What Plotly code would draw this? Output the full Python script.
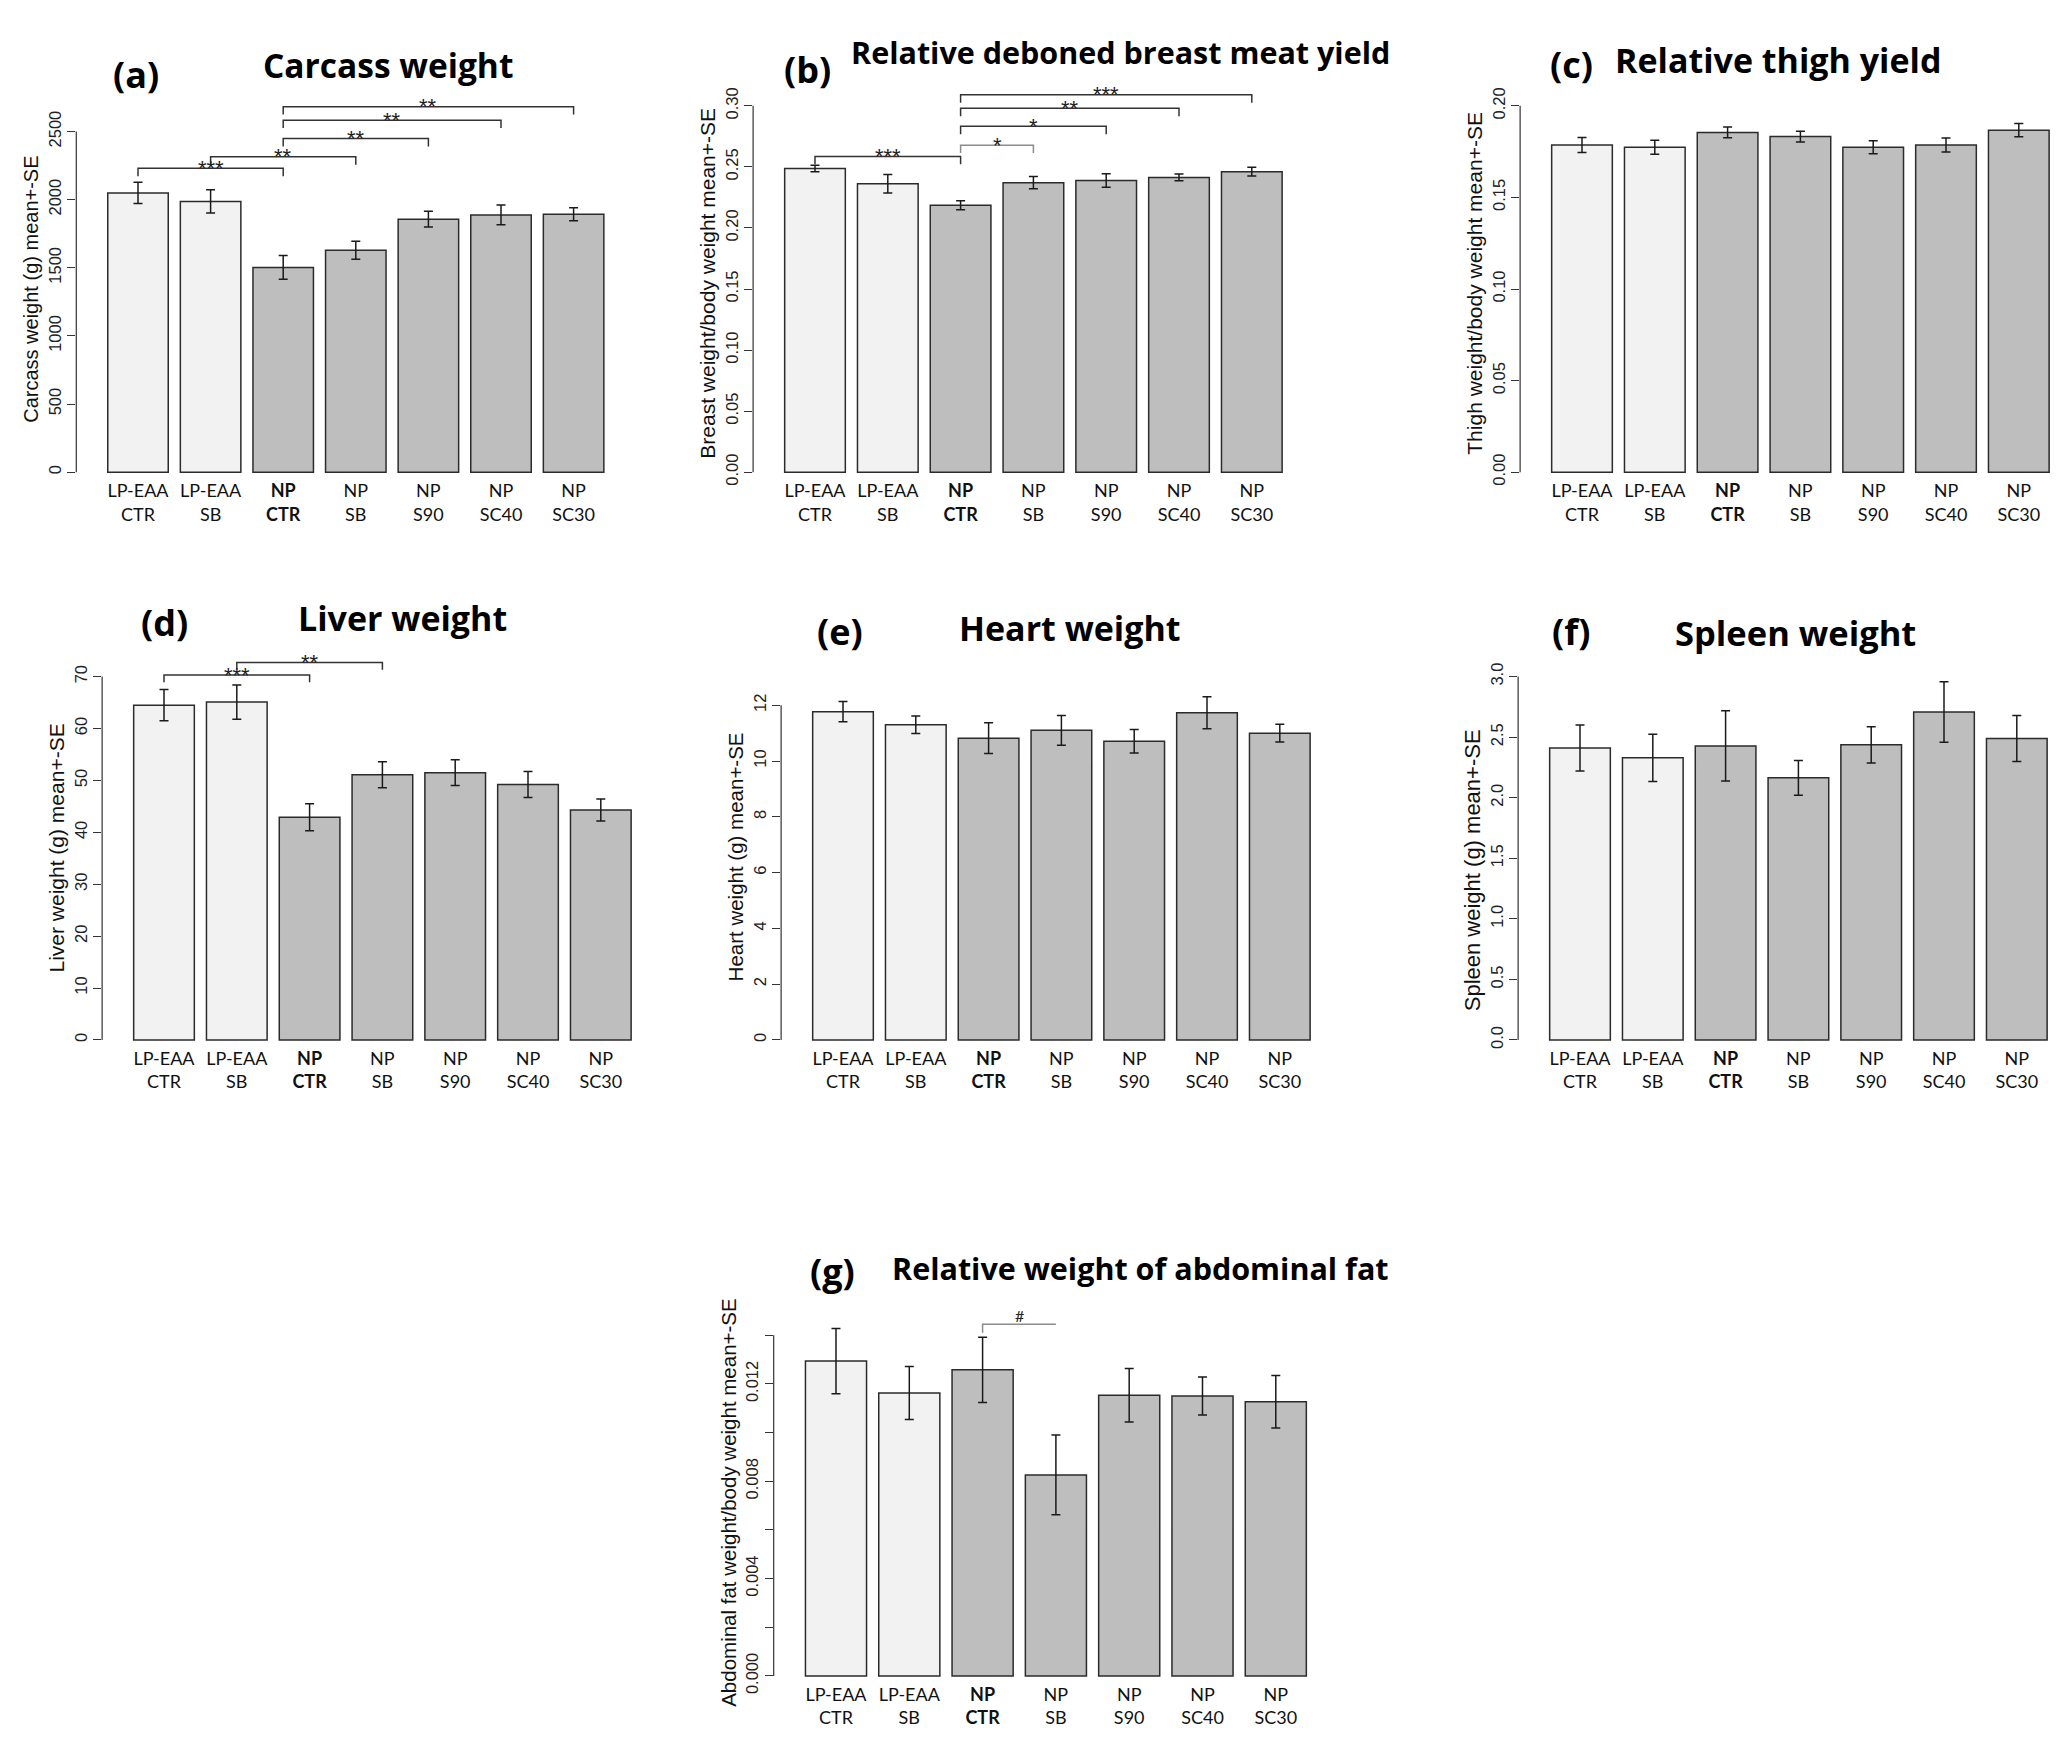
import plotly.graph_objects as go

W, H = 2067, 1755

# ---------------- data ----------------
groups = ["LP-EAA<br>CTR", "LP-EAA<br>SB", "<b>NP</b><br><b>CTR</b>", "NP<br>SB",
          "NP<br>S90", "NP<br>SC40", "NP<br>SC30"]
bar_colors = ["#f2f2f2", "#f2f2f2", "#bebebe", "#bebebe", "#bebebe", "#bebebe", "#bebebe"]

carcass_mean = [2049, 1987, 1503, 1628, 1857, 1888, 1893]
carcass_se = [78, 85, 87, 66, 58, 72, 48]
breast_mean = [0.2487, 0.2362, 0.2186, 0.2371, 0.2388, 0.2414, 0.2461]
breast_se = [0.0026, 0.0075, 0.0036, 0.0050, 0.0055, 0.0028, 0.0036]
thigh_mean = [0.1786, 0.1774, 0.1855, 0.1832, 0.1774, 0.1786, 0.1867]
thigh_se = [0.0041, 0.0038, 0.0029, 0.0030, 0.0035, 0.0038, 0.0036]
liver_mean = [64.5, 65.1, 42.9, 51.1, 51.5, 49.2, 44.3]
liver_se = [3.0, 3.3, 2.6, 2.5, 2.5, 2.5, 2.1]
heart_mean = [11.77, 11.30, 10.82, 11.10, 10.71, 11.73, 11.00]
heart_se = [0.36, 0.31, 0.55, 0.53, 0.42, 0.57, 0.32]
spleen_mean = [2.411, 2.330, 2.428, 2.164, 2.437, 2.707, 2.489]
spleen_se = [0.19, 0.195, 0.29, 0.143, 0.15, 0.25, 0.19]
fat_mean = [0.01294, 0.01163, 0.01258, 0.00826, 0.01153, 0.01150, 0.01127]
fat_se = [0.00134, 0.00109, 0.00134, 0.00164, 0.00110, 0.00078, 0.00108]

# significance brackets: (from group, to group, height, label)
carcass_sig = [(0, 2, 2230, "***"), (1, 3, 2315, "**"), (2, 4, 2448, "**"),
               (2, 5, 2583, "**"), (2, 6, 2682, "**")]
breast_sig = [(0, 2, 0.2586, "***"), (2, 3, 0.2678, "*"), (2, 4, 0.2832, "*"),
              (2, 5, 0.2980, "**"), (2, 6, 0.3090, "***")]
liver_sig = [(0, 2, 70.3, "***"), (1, 3, 72.7, "**")]
fat_sig = [(2, 3, 0.01445, "#")]

carcass_ticks = [0, 500, 1000, 1500, 2000, 2500]
carcass_ticktext = ["0", "500", "1000", "1500", "2000", "2500"]
breast_ticks = [0, 0.05, 0.10, 0.15, 0.20, 0.25, 0.30]
breast_ticktext = ["0.00", "0.05", "0.10", "0.15", "0.20", "0.25", "0.30"]
thigh_ticks = [0, 0.05, 0.10, 0.15, 0.20]
thigh_ticktext = ["0.00", "0.05", "0.10", "0.15", "0.20"]
liver_ticks = [0, 10, 20, 30, 40, 50, 60, 70]
liver_ticktext = ["0", "10", "20", "30", "40", "50", "60", "70"]
heart_ticks = [0, 2, 4, 6, 8, 10, 12]
heart_ticktext = ["0", "2", "4", "6", "8", "10", "12"]
spleen_ticks = [0, 0.5, 1.0, 1.5, 2.0, 2.5, 3.0]
spleen_ticktext = ["0.0", "0.5", "1.0", "1.5", "2.0", "2.5", "3.0"]
fat_ticks = [0, 0.002, 0.004, 0.006, 0.008, 0.010, 0.012, 0.014]
fat_ticktext = ["0.000", "", "0.004", "", "0.008", "", "0.012", ""]

# ---------------- panels (geometry in pixels) ----------------
panels = [
    dict(tag="(a)", title="Carcass weight", ylab="Carcass weight (g) mean+-SE",
         mean=carcass_mean, se=carcass_se, sig=carcass_sig, drop=58,
         ticks=carcass_ticks, ticktext=carcass_ticktext,
         c0=130, sp=72.6, base=463, tt=118, dtop=70, tsize=33.5, lsize=20,
         title_xy=(380, 51), tag_xy=(128, 60), ylab_y=278),
    dict(tag="(b)", title="Relative deboned breast meat yield",
         ylab="Breast weight/body weight mean+-SE",
         mean=breast_mean, se=breast_se, sig=breast_sig, drop=0.0065,
         ticks=breast_ticks, ticktext=breast_ticktext,
         c0=807, sp=72.8, base=463, tt=92, dtop=60, tsize=30.5, lsize=21,
         title_xy=(1112, 37), tag_xy=(799, 55), ylab_y=272),
    dict(tag="(c)", title="Relative thigh yield", ylab="Thigh weight/body weight mean+-SE",
         mean=thigh_mean, se=thigh_se, sig=[], drop=0,
         ticks=thigh_ticks, ticktext=thigh_ticktext,
         c0=1574, sp=72.8, base=463, tt=92, dtop=80, tsize=34, lsize=21,
         title_xy=(1770, 46), tag_xy=(1563, 50), ylab_y=272),
    dict(tag="(d)", title="Liver weight", ylab="Liver weight (g) mean+-SE",
         mean=liver_mean, se=liver_se, sig=liver_sig, drop=1.4,
         ticks=liver_ticks, ticktext=liver_ticktext,
         c0=156, sp=72.8, base=1038, tt=670, dtop=638, tsize=34, lsize=21,
         title_xy=(394, 611), tag_xy=(156, 615), ylab_y=844),
    dict(tag="(e)", title="Heart weight", ylab="Heart weight (g) mean+-SE",
         mean=heart_mean, se=heart_se, sig=[], drop=0,
         ticks=heart_ticks, ticktext=heart_ticktext,
         c0=835, sp=72.8, base=1038, tt=699, dtop=668, tsize=34, lsize=20.5,
         title_xy=(1062, 621), tag_xy=(832, 624), ylab_y=853),
    dict(tag="(f)", title="Spleen weight", ylab="Spleen weight (g) mean+-SE",
         mean=spleen_mean, se=spleen_se, sig=[], drop=0,
         ticks=spleen_ticks, ticktext=spleen_ticktext,
         c0=1572, sp=72.8, base=1038, tt=670, dtop=650, tsize=34.5, lsize=22,
         title_xy=(1787, 625), tag_xy=(1563, 624), ylab_y=866),
    dict(tag="(g)", title="Relative weight of abdominal fat",
         ylab="Abdominal fat weight/body weight mean+-SE",
         mean=fat_mean, se=fat_se, sig=fat_sig, drop=0.00035,
         ticks=fat_ticks, ticktext=fat_ticktext,
         c0=828, sp=73.3, base=1682, tt=1337, dtop=1298, tsize=30.5, lsize=20.5,
         title_xy=(1132, 1269), tag_xy=(824, 1272), ylab_y=1506),
]

TITLE_FONT = "Open Sans"
LABEL_FONT = "Lato"
TICK_FONT = "Liberation Sans"
fig = go.Figure()
annotations = []
shapes = []
layout = dict(width=W, height=H, margin=dict(l=0, r=0, t=0, b=0),
              paper_bgcolor="white", plot_bgcolor="white", showlegend=False)

n = len(groups)
for k, p in enumerate(panels, start=1):
    xa = "x" if k == 1 else f"x{k}"
    ya = "y" if k == 1 else f"y{k}"
    sp = p["sp"]
    gap = 0.85
    axis_px = p["c0"] - gap * sp
    right_px = p["c0"] + (n - 1 + 0.6) * sp
    xl = -gap
    xr = xl + (right_px - axis_px) / sp
    ppv = (p["base"] - p["tt"]) / p["ticks"][-1]
    bottom_px = p["base"] + 3
    ybot = -3 / ppv
    ytop = (p["base"] - p["dtop"]) / ppv

    fig.add_trace(go.Bar(
        x=groups, y=p["mean"], width=1 / 1.2,
        marker=dict(color=bar_colors, line=dict(color="#2b2b2b", width=1.5)),
        error_y=dict(type="data", array=p["se"], visible=True, color="#1a1a1a",
                     thickness=1.5, width=4.5),
        xaxis=xa, yaxis=ya, hoverinfo="skip"))

    for (i, j, h, lab) in p["sig"]:
        light = lab == "#" or (p["tag"] == "(b)" and lab == "*" and j == 3)
        col = "#8c8c8c" if light else "#333333"
        if lab == "#":
            xs = [groups[i], groups[i], groups[j]]
            ys = [h - p["drop"], h, h]
        else:
            xs = [groups[i], groups[i], groups[j], groups[j]]
            ys = [h - p["drop"], h, h, h - p["drop"]]
        fig.add_trace(go.Scatter(x=xs, y=ys, mode="lines",
                                 line=dict(color=col, width=1.5),
                                 xaxis=xa, yaxis=ya, hoverinfo="skip"))
        annotations.append(dict(x=(i + j) / 2, y=h, xref=xa, yref=ya, text=lab,
                                showarrow=False, yanchor="middle", xanchor="center",
                                yshift=9 if lab == "#" else 0,
                                font=dict(family=TICK_FONT if lab != "#" else LABEL_FONT,
                                          size=22 if lab != "#" else 16, color="#222")))

    key_x = "xaxis" if k == 1 else f"xaxis{k}"
    key_y = "yaxis" if k == 1 else f"yaxis{k}"
    layout[key_x] = dict(domain=[axis_px / W, right_px / W], range=[xl, xr],
                         anchor=ya, showline=False, showgrid=False, zeroline=False,
                         ticks="", ticklabelstandoff=3,
                         tickfont=dict(family=LABEL_FONT, size=18, color="#111"),
                         fixedrange=True)
    layout[key_y] = dict(domain=[1 - bottom_px / H, 1 - p["dtop"] / H], range=[ybot, ytop],
                         anchor=xa, showline=False, showgrid=False, zeroline=False,
                         tickmode="array", tickvals=p["ticks"], ticktext=p["ticktext"],
                         tickangle=-90, ticks="outside", ticklen=8, tickwidth=1.2,
                         tickcolor="#333",
                         tickfont=dict(family=TICK_FONT, size=16.5, color="#222"),
                         fixedrange=True)
    shapes.append(dict(type="line", xref=f"{xa} domain", yref=ya, x0=0, x1=0,
                       y0=p["ticks"][0], y1=p["ticks"][-1],
                       line=dict(color="#333", width=1.2)))

    tx, ty = p["title_xy"]
    annotations.append(dict(x=tx / W, y=1 - ty / H, xref="paper", yref="paper",
                            text=f"<b>{p['title']}</b>", showarrow=False,
                            xanchor="center", yanchor="middle",
                            font=dict(family=TITLE_FONT, size=p["tsize"], color="#000")))
    gx, gy = p["tag_xy"]
    annotations.append(dict(x=gx / W, y=1 - gy / H, xref="paper", yref="paper",
                            text=f"<b>{p['tag']}</b>", showarrow=False,
                            xanchor="center", yanchor="middle",
                            font=dict(family=TITLE_FONT, size=36, color="#000")))
    lx = axis_px - 46
    ly = p["ylab_y"]
    annotations.append(dict(x=lx / W, y=1 - ly / H, xref="paper", yref="paper",
                            text=p["ylab"], showarrow=False, textangle=-90,
                            xanchor="center", yanchor="middle",
                            font=dict(family=TICK_FONT, size=p["lsize"], color="#111")))

layout["annotations"] = annotations
layout["shapes"] = shapes
fig.update_layout(**layout)
fig.write_html("out.html")
